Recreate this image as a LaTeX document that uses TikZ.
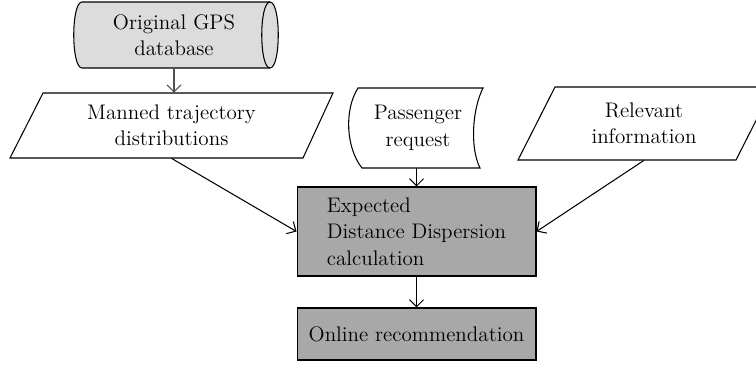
\documentclass[tikz,border=0pt]{standalone}
\usepackage{tikz}
\usetikzlibrary{shapes.geometric, arrows.meta, positioning}
\definecolor{dbgray}{RGB}{220,220,220}
\definecolor{boxgray}{RGB}{168,168,168}
\definecolor{linegray}{RGB}{80,80,80}

\begin{document}
\begin{tikzpicture}[x=0.02cm, y=-0.02cm,
    font=\fontsize{12}{15}\selectfont,
    base/.style={draw=black, line width=0.6pt, inner sep=2pt, align=center},
    label/.style={inner sep=0pt, align=center},
    process/.style={base, rectangle, fill=boxgray, minimum width=4.78cm},
    arrow/.style={-{Straight Barb[length=4pt, width=8pt]}, line width=0.6pt}
]
\useasboundingbox (0,0) rectangle (756,366);

% original GPS database: horizontal cylinder
\draw[base, fill=dbgray] (82,2) -- (270,2) .. controls (281,2) and (281,68) .. (270,68)
    -- (82,68) .. controls (71,68) and (71,2) .. (82,2) -- cycle;
\draw[base] (270,68) .. controls (259,68) and (259,2) .. (270,2);
\node[label, minimum height=1.32cm] (db) at (174,35) {Original GPS\\database};

% manned trajectory distributions
\draw[base, fill=white] (43,93) -- (333,93) -- (303,158) -- (10,158) -- cycle;
\node[label, minimum height=1.3cm] (manned) at (171.5,125.5) {Manned trajectory\\distributions};

% relevant information
\draw[base, fill=white] (555,87) -- (773,87) -- (736,160) -- (518,160) -- cycle;
\node[label, minimum height=1.46cm] (rel) at (644,123.5) {Relevant\\information};

% passenger request: stored data outline
\draw[base, fill=white] (358,88) -- (483,88) .. controls (472,110) and (470,148) .. (480,168)
    -- (362,168) .. controls (346,148) and (344,110) .. (358,88) -- cycle;
\node[label, minimum height=1.6cm] (pass) at (418,128) {Passenger\\request};

\node[process, minimum height=1.78cm, align=left] (expect) at (416.5,231.5) {Expected\\Distance Dispersion\\calculation};
\node[process, minimum height=1.04cm] (online) at (416.5,334) {Online recommendation};

\draw[arrow, linegray] (db.south) -- (db.south |- manned.north);
\draw[arrow] (manned.south) -- (expect.west);
\draw[arrow] (rel.south) -- (expect.east);
\draw[arrow] (expect.north |- pass.south) -- (expect.north);
\draw[arrow] (expect) -- (online);

\end{tikzpicture}
\end{document}
